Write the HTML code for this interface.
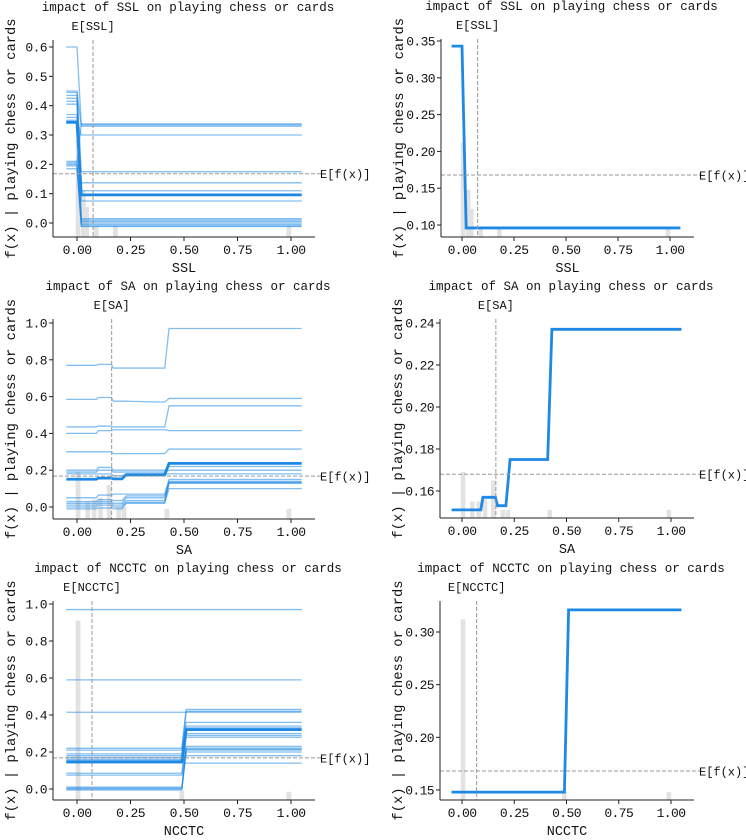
<!DOCTYPE html>
<html><head><meta charset="utf-8">
<style>
html,body{margin:0;padding:0;background:#fff;}
svg{display:block;}
text{font-family:"Liberation Mono","WenQuanYi Zen Hei",monospace;fill:#111;}
</style></head>
<body>
<svg id="fig" width="746" height="840" viewBox="0 0 746 840" xmlns="http://www.w3.org/2000/svg"></svg>
<script>
// ---------- DATA ----------
const expectedFx = 0.168;
// SSL
const sslGrid = [-0.05, 0.0, 0.02, 1.05];
const sslIce = [
 [0.60,0.60,0.335,0.335],[0.45,0.45,0.33,0.33],[0.445,0.445,0.175,0.175],[0.435,0.435,0.137,0.137],
 [0.425,0.425,0.11,0.11],[0.415,0.415,0.095,0.095],[0.405,0.405,0.075,0.075],[0.37,0.37,0.015,0.015],
 [0.36,0.36,0.005,0.005],[0.35,0.35,0.30,0.30],[0.345,0.345,-0.005,-0.005],[0.21,0.21,0.01,0.01],
 [0.20,0.20,-0.01,-0.01],[0.195,0.195,0.0,0.0],[0.185,0.185,-0.012,-0.012],[0.205,0.205,0.338,0.338]
];
const sslMean = [0.343,0.343,0.096,0.096];
const sslHistX = [0.005,0.03,0.045,0.09,0.18,0.99];
const sslHistH = [0.282,0.112,0.055,-0.01,-0.01,-0.01];
const sslHistH2 = [0.212,0.148,0.122,0.095,0.095,0.095];
const sslMeanX = 0.075;
// SA
const saGrid = [-0.05,0.09,0.10,0.16,0.17,0.21,0.23,0.41,0.43,1.05];
const saIce = [
 [0.77,0.77,0.775,0.775,0.755,0.755,0.755,0.755,0.97,0.97],
 [0.585,0.585,0.595,0.595,0.575,0.575,0.575,0.57,0.59,0.59],
 [0.435,0.435,0.44,0.44,0.435,0.435,0.435,0.435,0.55,0.55],
 [0.40,0.40,0.415,0.415,0.42,0.42,0.42,0.42,0.415,0.415],
 [0.30,0.30,0.30,0.30,0.29,0.29,0.29,0.29,0.315,0.315],
 [0.20,0.20,0.215,0.215,0.20,0.20,0.20,0.20,0.22,0.22],
 [0.19,0.19,0.20,0.20,0.19,0.19,0.19,0.19,0.20,0.20],
 [0.18,0.18,0.18,0.18,0.17,0.17,0.18,0.18,0.18,0.18],
 [0.05,0.05,0.065,0.065,0.07,0.07,0.07,0.07,0.15,0.15],
 [0.03,0.03,0.04,0.04,0.035,0.035,0.06,0.06,0.14,0.14],
 [0.02,0.02,0.03,0.03,0.02,0.02,0.05,0.05,0.135,0.135],
 [0.01,0.01,0.02,0.02,0.01,0.01,0.035,0.035,0.13,0.13],
 [0.0,0.0,0.01,0.01,0.0,0.0,0.025,0.025,0.13,0.13],
 [-0.01,-0.01,-0.005,-0.005,-0.01,-0.01,0.02,0.02,0.10,0.10]
];
const saMean = [0.151,0.151,0.157,0.157,0.153,0.153,0.175,0.175,0.237,0.237];
const saHistX = [0.005,0.05,0.08,0.11,0.15,0.195,0.22,0.42,0.99];
const saHistH = [0.19,0.03,0.04,0.05,0.12,0.0,0.0,-0.01,-0.01];
const saHistH2 = [0.169,0.155,0.155,0.156,0.165,0.151,0.151,0.151,0.151];
const saMeanX = 0.162;
// NCCTC
const ncGrid = [-0.05,0.49,0.51,1.05];
const ncIce = [
 [0.97,0.97,0.97,0.97],[0.59,0.59,0.59,0.59],[0.415,0.415,0.415,0.415],
 [0.22,0.22,0.43,0.43],[0.21,0.21,0.42,0.42],[0.19,0.19,0.36,0.36],[0.18,0.18,0.34,0.34],
 [0.17,0.17,0.33,0.33],[0.16,0.16,0.30,0.30],[0.15,0.15,0.29,0.29],[0.14,0.14,0.14,0.14],
 [0.085,0.085,0.28,0.28],[0.075,0.075,0.23,0.23],[0.01,0.01,0.22,0.22],[0.005,0.005,0.21,0.21],
 [0.0,0.0,0.20,0.20],[-0.005,-0.005,0.215,0.215],[0.145,0.145,0.18,0.18]
];
const ncMean = [0.148,0.148,0.321,0.321];
const ncHistX = [0.005,0.49,0.99];
const ncHistH = [0.91,-0.01,-0.015];
const ncHistH2 = [0.312,0.148,0.148];
const ncMeanX = 0.07;
const xTickVals = [0,0.25,0.5,0.75,1.0];
const xTickLabels = ["0.00","0.25","0.50","0.75","1.00"];
const yTicksA=[0,0.1,0.2,0.3,0.4,0.5,0.6], yLabA=["0.0","0.1","0.2","0.3","0.4","0.5","0.6"];
const yTicksB=[0.10,0.15,0.20,0.25,0.30,0.35], yLabB=["0.10","0.15","0.20","0.25","0.30","0.35"];
const yTicksC=[0,0.2,0.4,0.6,0.8,1.0], yLabC=["0.0","0.2","0.4","0.6","0.8","1.0"];
const yTicksD=[0.16,0.18,0.20,0.22,0.24], yLabD=["0.16","0.18","0.20","0.22","0.24"];
const yTicksF=[0.15,0.20,0.25,0.30], yLabF=["0.15","0.20","0.25","0.30"];

// ---------- DRAW ----------
const NS="http://www.w3.org/2000/svg";
const svg=document.getElementById('fig');
function mk(tag,attrs,parent,txt){const e=document.createElementNS(NS,tag);for(const k in attrs)e.setAttribute(k,attrs[k]);if(txt!==undefined)e.textContent=txt;(parent||svg).appendChild(e);return e;}

function panel(name,g,feat,grid,ice,mean,hx,hh,meanX,yt,yl){
  const grp=mk('g',{},svg);
  
  
  const X=v=>g.x0+(g.x1-g.x0)*v;
  const Y=v=>g.ya+(g.yb-g.ya)*(v-g.va)/(g.vb-g.va);
  const clip='clip-'+name;
  const cp=mk('clipPath',{id:clip},grp);mk('rect',{x:g.left,y:g.top,width:g.right-g.left,height:g.bottom-g.top},cp);
  const plot=mk('g',{'clip-path':'url(#'+clip+')'},grp);
  hx.forEach((x,i)=>{
    const r=mk('rect',{x:X(x-0.011),y:Y(hh[i]),width:X(0.022)-X(0),height:Math.max(0,g.bottom-Y(hh[i])),fill:'#e2e2e2'},plot);
    
    
  });
  ice.forEach(s=>{
    const p=mk('polyline',{points:s.map((v,i)=>X(grid[i])+','+Y(v)).join(' '),fill:'none',stroke:'#1E88E5','stroke-opacity':0.55,'stroke-width':1.3},plot);
    
    
  });
  const hl=mk('line',{x1:g.left,x2:g.right+8,y1:Y(expectedFx),y2:Y(expectedFx),stroke:'#999','stroke-width':1,'stroke-dasharray':'4,2'},grp);
  
  
  const vl=mk('line',{x1:X(meanX),x2:X(meanX),y1:g.top,y2:g.bottom,stroke:'#999','stroke-width':1,'stroke-dasharray':'4,2'},grp);
  
  
  const m=mk('polyline',{points:mean.map((v,i)=>X(grid[i])+','+Y(v)).join(' '),fill:'none',stroke:'#1E88E5','stroke-width':2.8},plot);
  
  
  mk('line',{x1:g.left,x2:g.left,y1:g.top,y2:g.bottom,stroke:'#222','stroke-width':1},grp);
  mk('line',{x1:g.left,x2:g.right,y1:g.bottom,y2:g.bottom,stroke:'#222','stroke-width':1},grp);
  xTickVals.forEach((v,i)=>{
    mk('line',{x1:X(v),x2:X(v),y1:g.bottom,y2:g.bottom+4,stroke:'#222'},grp);
    const t=mk('text',{x:X(v),y:g.bottom+17,'font-size':13,'letter-spacing':-0.6,'text-anchor':'middle'},grp,xTickLabels[i]);
    
    
  });
  yt.forEach((v,i)=>{
    mk('line',{x1:g.left-4,x2:g.left,y1:Y(v),y2:Y(v),stroke:'#222'},grp);
    const t=mk('text',{x:g.left-6,y:Y(v)+4.5,'font-size':13,'letter-spacing':-0.6,'text-anchor':'end'},grp,yl[i]);
    
    
  });
  const cx=(g.left+g.right)/2;
  const ti=mk('text',{x:cx+4,y:g.top-29,'font-size':12.5,'text-anchor':'middle'},grp,'impact of '+feat+' on playing chess or cards');
  
  const el=mk('text',{x:X(meanX),y:g.top-10,'font-size':12,'text-anchor':'middle'},grp,'E['+feat+']');
  
  const ef=mk('text',{x:g.right+5,y:Y(expectedFx)+4.5,'font-size':12},grp,'E[f(x)]');
  
  const xl=mk('text',{x:cx,y:g.bottom+35,'font-size':13.5,'text-anchor':'middle'},grp,feat);
  
  const yc=(g.top+g.bottom)/2, yx=g.left-38;
  const yl2=mk('text',{x:yx,y:yc,'font-size':13.8,'text-anchor':'middle',transform:'rotate(-90 '+yx+' '+yc+')'},grp,'f(x) | playing chess or cards');
  
}
panel('ssl-ice-panel',{left:53,right:315,top:40,bottom:237,x0:77,x1:291,va:0,ya:223,vb:0.6,yb:47},'SSL',sslGrid,sslIce,sslMean,sslHistX,sslHistH,sslMeanX,yTicksA,yLabA);
panel('ssl-pdp-panel',{left:441,right:694,top:39,bottom:237,x0:462,x1:670,va:0.10,ya:225,vb:0.35,yb:41},'SSL',sslGrid,[],sslMean,sslHistX,sslHistH2,sslMeanX,yTicksB,yLabB);
panel('sa-ice-panel',{left:53,right:315,top:319,bottom:519,x0:77,x1:291,va:0,ya:507,vb:1.0,yb:323},'SA',saGrid,saIce,saMean,saHistX,saHistH,saMeanX,yTicksC,yLabC);
panel('sa-pdp-panel',{left:440,right:694,top:319,bottom:518,x0:462,x1:671,va:0.16,ya:491,vb:0.24,yb:323},'SA',saGrid,[],saMean,saHistX,saHistH2,saMeanX,yTicksD,yLabD);
panel('ncctc-ice-panel',{left:53,right:315,top:601,bottom:800,x0:77,x1:291,va:0,ya:789,vb:1.0,yb:604},'NCCTC',ncGrid,ncIce,ncMean,ncHistX,ncHistH,ncMeanX,yTicksC,yLabC);
panel('ncctc-pdp-panel',{left:440,right:694,top:601,bottom:800,x0:462,x1:671,va:0.15,ya:790,vb:0.30,yb:632},'NCCTC',ncGrid,[],ncMean,ncHistX,ncHistH2,ncMeanX,yTicksF,yLabF);
</script>
</body></html>
